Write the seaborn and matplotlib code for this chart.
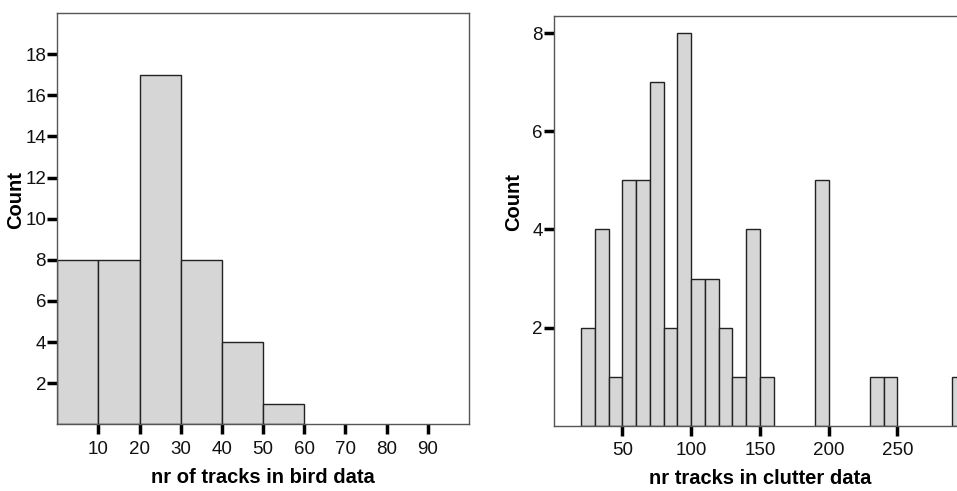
import numpy as np
import matplotlib
matplotlib.use("Agg")
import matplotlib.pyplot as plt
import seaborn as sns

# bird data: bin left edges and counts (bin width 10)
bird_edges = [0, 10, 20, 30, 40, 50]
bird_counts = [8, 8, 17, 8, 4, 1]

# clutter data: bin left edges and counts (bin width 10)
clutter_edges = [20, 30, 40, 50, 60, 70, 80, 90, 100, 110, 120, 130, 140, 150,
                 190, 230, 240, 290]
clutter_counts = [2, 4, 1, 5, 5, 7, 2, 8, 3, 3, 2, 1, 4, 1, 5, 1, 1, 1]

bird_xticks = [10, 20, 30, 40, 50, 60, 70, 80, 90]
bird_yticks = [2, 4, 6, 8, 10, 12, 14, 16, 18]
clutter_xticks = [50, 100, 150, 200, 250]
clutter_yticks = [2, 4, 6, 8]

sns.set_style("white")
plt.rcParams['font.family'] = ['Liberation Sans', 'DejaVu Sans']
plt.rcParams['text.color'] = 'black'
plt.rcParams['axes.labelcolor'] = 'black'

fig = plt.figure(figsize=(9.57, 4.91), dpi=100)
ax1 = fig.add_axes([0.0598, 0.1357, 0.4303, 0.8378])
ax2 = fig.add_axes([0.5785, 0.1328, 0.4310, 0.8346])

bar_kw = dict(binwidth=10, stat="count", color="#d6d6d6", edgecolor="#222222",
              linewidth=1.0, alpha=1.0)

sns.histplot(x=np.array(bird_edges) + 5, weights=bird_counts, binrange=(0, 60),
             ax=ax1, **bar_kw)
sns.histplot(x=np.array(clutter_edges) + 5, weights=clutter_counts,
             binrange=(20, 300), ax=ax2, **bar_kw)

# drop empty bins so they don't draw a flat line
for ax in (ax1, ax2):
    for p in list(ax.patches):
        if p.get_height() == 0:
            p.remove()

ax1.set_xlim(0, 100)
ax1.set_ylim(0, 20)
ax1.set_xticks(bird_xticks)
ax1.set_yticks(bird_yticks)
ax1.set_xlabel("nr of tracks in bird data", fontsize=14.5, fontweight="bold", labelpad=7)
ax1.set_ylabel("Count", fontsize=14.5, fontweight="bold")
ax1.yaxis.set_label_coords(-0.078, 0.545)

ax2.set_xlim(0, 300)
ax2.set_ylim(0, 8.35)
ax2.set_xticks(clutter_xticks)
ax2.set_yticks(clutter_yticks)
ax2.set_xlabel("nr tracks in clutter data", fontsize=14.5, fontweight="bold", labelpad=7)
ax2.set_ylabel("Count", fontsize=14.5, fontweight="bold")
ax2.yaxis.set_label_coords(-0.074, 0.546)

for ax in (ax1, ax2):
    for s in ax.spines.values():
        s.set_color("#555555")
        s.set_linewidth(1.0)
        s.set_visible(True)
    ax.tick_params(axis="both", which="major", bottom=True, left=True,
                   top=False, right=False, direction="out", length=7, width=2.5,
                   color="black", labelsize=13.5, labelcolor="#111111")
    ax.tick_params(axis="x", pad=5)
    ax.tick_params(axis="y", pad=1)
    ax.set_facecolor("white")

fig.savefig("out.png", dpi=100)
